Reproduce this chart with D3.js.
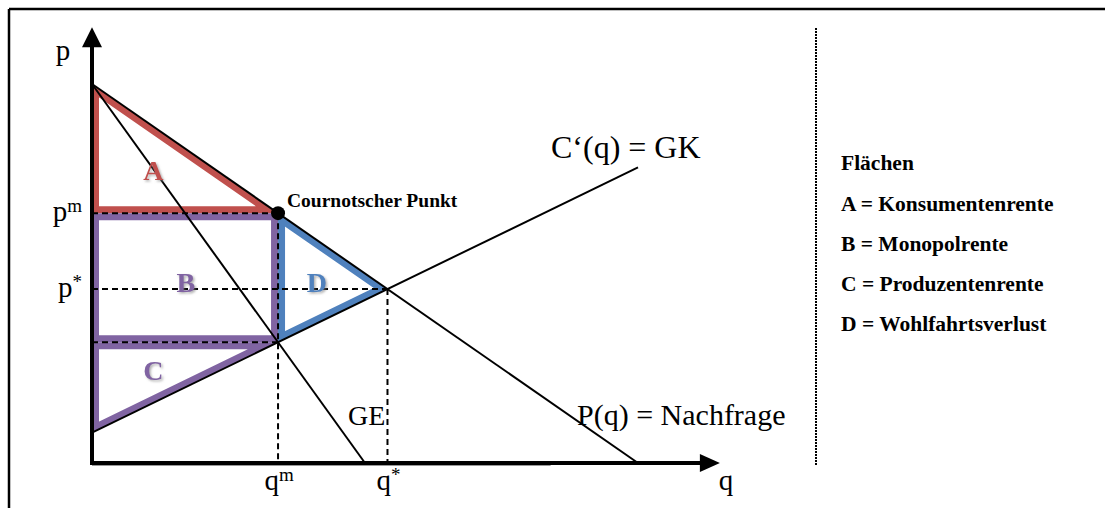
<!DOCTYPE html>
<html><head><meta charset="utf-8">
<script src="https://cdn.jsdelivr.net/npm/d3@7"></script>
<style>
html,body{margin:0;padding:0;background:#fff;}
text{font-family:"Liberation Serif","Times New Roman",serif;fill:#000;}
</style></head>
<body><svg id="c" width="1105" height="508"></svg>
<script>
// ---- data (model units: quantity q, price p) ----
const demandQ = [0, 10];   const demandP = [10, 0];     // P(q) = Nachfrage
const mrQ     = [0, 5];    const mrP     = [10, 0];     // GE
const mcQ     = [0, 10];   const mcP     = [0.8, 7.8];  // C'(q) = GK
const axisMax = [11.5, 11.5];
const areaNames  = ["A", "B", "C", "D"];
const areaLabels = ["Konsumentenrente", "Monopolrente", "Produzentenrente", "Wohlfahrtsverlust"];
const legendTitle = "Flächen";

const svg = d3.select("#c");
const x = d3.scaleLinear().domain([0, 10]).range([92, 638]);
const y = d3.scaleLinear().domain([0, 10]).range([463, 84]);

function lin(Q, P){ const m=(P[1]-P[0])/(Q[1]-Q[0]); const b=P[0]-m*Q[0]; const f=q=>b+m*q; f.m=m; f.b=b; return f; }
const D = lin(demandQ, demandP), MR = lin(mrQ, mrP), MC = lin(mcQ, mcP);
const inter = (f,g) => (g.b - f.b)/(f.m - g.m);
const qm = inter(MR, MC), pm = D(qm), pc = MC(qm);
const qs = inter(D, MC), ps = D(qs);

// frame (top + left only visible)
svg.append("line").attr("x1",9).attr("y1",9).attr("x2",1105).attr("y2",9).attr("stroke","#000").attr("stroke-width",2.5);
svg.append("line").attr("x1",9).attr("y1",9).attr("x2",9).attr("y2",508).attr("stroke","#000").attr("stroke-width",2.5);

const defs = svg.append("defs");
const f = defs.append("filter").attr("id","sh").attr("x","-20%").attr("y","-20%").attr("width","150%").attr("height","150%");
f.append("feDropShadow").attr("dx",1.5).attr("dy",1.5).attr("stdDeviation",1).attr("flood-color","#777").attr("flood-opacity",0.6);

const polys = [
  {pts:[[0,D(0)],[qm,pm],[0,pm]], col:"#c0504d"},
  {pts:[[0,pm],[qm,pm],[qm,pc],[0,pc]], col:"#8064a2"},
  {pts:[[0,pc],[qm,pc],[0,MC(0)]], col:"#8064a2"},
  {pts:[[qm,pm],[qs,ps],[qm,pc]], col:"#4f81bd"}
];
const line = d3.line().x(d=>x(d[0])).y(d=>y(d[1]));
polys.forEach((p,i)=>{
  const d = line(p.pts)+"Z";
  defs.append("clipPath").attr("id","cp"+i).append("path").attr("d",d);
  svg.append("path").attr("d",d).attr("fill","none").attr("stroke",p.col)
     .attr("stroke-width",14).attr("stroke-linejoin","miter").attr("clip-path","url(#cp"+i+")");
});

// dashed guides
const dash = [
  [[0,pm],[qm,pm]], [[0,ps],[qs,ps]], [[0,pc],[qm,pc]],
  [[qm,pm],[qm,0]], [[qs,ps],[qs,0]]
];
dash.forEach(s=>svg.append("path").attr("d",line(s)).attr("stroke","#000").attr("stroke-width",2).attr("stroke-dasharray","6,4").attr("fill","none"));

// curves
[[demandQ,demandP],[mrQ,mrP],[mcQ,mcP]].forEach(([Q,P])=>{
  svg.append("path").attr("d",line(Q.map((q,i)=>[q,P[i]]))).attr("stroke","#000").attr("stroke-width",2).attr("fill","none");
});

// axes
svg.append("line").attr("x1",x(0)).attr("y1",y(0)+1.5).attr("x2",x(8.4)).attr("y2",y(0)+1.5).attr("stroke","#999").attr("stroke-width",3);
svg.append("line").attr("x1",x(0)).attr("y1",y(0)).attr("x2",x(axisMax[0])-14).attr("y2",y(0)).attr("stroke","#000").attr("stroke-width",4);
svg.append("line").attr("x1",x(0)).attr("y1",y(0)+2).attr("x2",x(0)).attr("y2",y(axisMax[1])+16).attr("stroke","#000").attr("stroke-width",4);
const xt = x(axisMax[0]), yt = y(axisMax[1]);
svg.append("path").attr("d",`M${xt},${y(0)} L${xt-20},${y(0)-9} L${xt-20},${y(0)+9}Z`).attr("fill","#000");
svg.append("path").attr("d",`M${x(0)},${yt} L${x(0)-10},${yt+20} L${x(0)+10},${yt+20}Z`).attr("fill","#000");

// Cournot point
svg.append("circle").attr("cx",x(qm)).attr("cy",y(pm)).attr("r",7).attr("fill","#000");
svg.append("text").attr("x",x(qm)+9).attr("y",y(pm)-6).attr("font-size",19.5).attr("font-weight","bold").text("Cournotscher Punkt");

// axis labels
function sup(xp, yp, base, s, anchor){
  const t = svg.append("text").attr("x",xp).attr("y",yp).attr("font-size",29).attr("text-anchor",anchor);
  t.append("tspan").text(base);
  if(s) t.append("tspan").attr("dy",-9).attr("font-size",19).text(s);
  return t;
}
sup(63, 60, "p", "", "middle");
sup(82, y(pm)+8, "p", "m", "end");
sup(82, y(ps)+8, "p", "*", "end");
sup(x(qm)+1, 490, "q", "m", "middle");
sup(x(qs)+1, 490, "q", "*", "middle");
sup(x(axisMax[0])+6, 490, "q", "", "middle");

// curve labels
svg.append("text").attr("x",551).attr("y",158).attr("font-size",32).text("C‘(q) = GK");
svg.append("text").attr("x",577).attr("y",425).attr("font-size",30).text("P(q) = Nachfrage");
svg.append("text").attr("x",348).attr("y",425).attr("font-size",28).text("GE");

// area labels (centre positions, baseline offset)
const labPos = [
  [qm*0.33, pm+0.33*(D(0)-pm), 9],
  [qm*0.505, ps, 3],
  [qm*0.33, MC(0)+0.68*(pc-MC(0)), 9],
  [qm+(qs-qm)*0.355, ps, 3]
];
labPos.forEach((p,i)=>{
  svg.append("text").attr("x",x(p[0])).attr("y",y(p[1])+p[2]).attr("text-anchor","middle")
    .attr("font-size",28).attr("font-weight","bold").attr("filter","url(#sh)")
    .style("fill",polys[i].col).text(areaNames[i]);
});

// separator
svg.append("line").attr("x1",816).attr("y1",28).attr("x2",816).attr("y2",465).attr("stroke","#000").attr("stroke-width",2).attr("stroke-dasharray","2,1");

// legend
svg.append("text").attr("x",841).attr("y",170).attr("font-size",21.5).attr("font-weight","bold").text(legendTitle);
areaNames.forEach((n,i)=>{
  svg.append("text").attr("x",841).attr("y",211+40*i).attr("font-size",21.5).attr("font-weight","bold").text(n+" = "+areaLabels[i]);
});
</script></body></html>
